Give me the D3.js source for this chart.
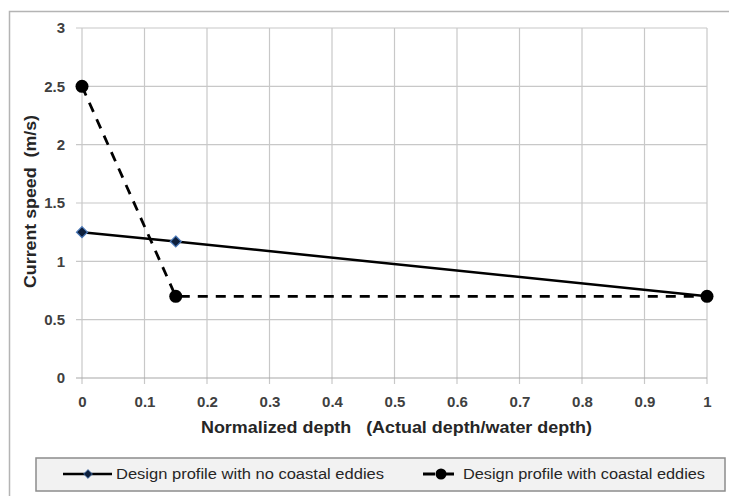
<!DOCTYPE html>
<html>
<head>
<meta charset="utf-8">
<script src="https://cdn.jsdelivr.net/npm/d3@7"></script>
<style>
  body { margin: 0; background: #fff; }
  text { font-family: "Liberation Sans", Arial, sans-serif; }
</style>
</head>
<body>
<svg id="chart" width="729" height="496"></svg>
<script>
// series data
var depth = [0, 0.15, 1];
var noEddies = [1.25, 1.17, 0.7];
var withEddies = [2.5, 0.7, 0.7];
var xTicks = [0, 0.1, 0.2, 0.3, 0.4, 0.5, 0.6, 0.7, 0.8, 0.9, 1];
var yTicks = [0, 0.5, 1, 1.5, 2, 2.5, 3];
var seriesNames = ["Design profile with no coastal eddies", "Design profile with coastal eddies"];

var margin = { top: 28, left: 82 },
    width = 625,
    height = 350;

var svg = d3.select("#chart");

// outer frame
svg.append("rect")
    .attr("x", 9.5).attr("y", 11.5)
    .attr("width", 740).attr("height", 500)
    .attr("fill", "none")
    .attr("stroke", "#b4b4b4")
    .attr("stroke-width", 1.5);

var x = d3.scaleLinear().domain([0, 1]).range([0, width]);
var y = d3.scaleLinear().domain([0, 3]).range([height, 0]);

var chart = svg.append("g")
    .attr("transform", "translate(" + margin.left + "," + margin.top + ")");

// grid
chart.selectAll(".vgrid")
    .data(xTicks)
    .enter().append("line")
    .attr("x1", function(d) { return x(d); })
    .attr("x2", function(d) { return x(d); })
    .attr("y1", 0).attr("y2", height + 6)
    .attr("stroke", "#c8c8c8")
    .attr("stroke-width", 1.2);

chart.selectAll(".hgrid")
    .data(yTicks)
    .enter().append("line")
    .attr("x1", -6).attr("x2", width)
    .attr("y1", function(d) { return y(d); })
    .attr("y2", function(d) { return y(d); })
    .attr("stroke", function(d) { return d === 0 ? "#a8a8a8" : "#c8c8c8"; })
    .attr("stroke-width", 1.2);

var xAxis = d3.axisBottom(x).tickValues(xTicks).tickSize(0).tickPadding(18)
    .tickFormat(d3.format("~g"));
var yAxis = d3.axisLeft(y).tickValues(yTicks).tickSize(0).tickPadding(17)
    .tickFormat(d3.format("~g"));

var gx = chart.append("g")
    .attr("transform", "translate(0," + height + ")")
    .call(xAxis);
var gy = chart.append("g").call(yAxis);

[gx, gy].forEach(function(g) {
    g.select(".domain").remove();
    g.selectAll("text")
        .attr("fill", "#404040")
        .style("font-size", "15px")
        .style("font-weight", "bold");
});

// lines
var line = d3.line()
    .x(function(d) { return x(d[0]); })
    .y(function(d) { return y(d[1]); });

var s1 = depth.map(function(d, i) { return [d, noEddies[i]]; });
var s2 = depth.map(function(d, i) { return [d, withEddies[i]]; });

chart.append("path")
    .datum(s2)
    .attr("d", line)
    .attr("fill", "none")
    .attr("stroke", "#000")
    .attr("stroke-width", 2.8)
    .attr("stroke-dasharray", "10,8");

chart.append("path")
    .datum(s1)
    .attr("d", line)
    .attr("fill", "none")
    .attr("stroke", "#000")
    .attr("stroke-width", 2.5);

var diamond = "M0,-5.5L5.5,0L0,5.5L-5.5,0Z";

chart.selectAll(".dmark")
    .data(s1.slice(0, 2))
    .enter().append("path")
    .attr("d", diamond)
    .attr("transform", function(d) { return "translate(" + x(d[0]) + "," + y(d[1]) + ")"; })
    .attr("fill", "#0d1f3c")
    .attr("stroke", "#4a78b8")
    .attr("stroke-width", 1.2);

chart.selectAll(".cmark")
    .data(s2)
    .enter().append("circle")
    .attr("cx", function(d) { return x(d[0]); })
    .attr("cy", function(d) { return y(d[1]); })
    .attr("r", 6.5)
    .attr("fill", "#000");

// axis titles
svg.append("text")
    .text("Normalized depth   (Actual depth/water depth)")
    .attr("x", 201).attr("y", 433)
    .attr("textLength", 391)
    .attr("lengthAdjust", "spacingAndGlyphs")
    .attr("fill", "#262626")
    .style("font-size", "16px")
    .style("font-weight", "bold")
    .attr("xml:space", "preserve");

svg.append("text")
    .text("Current speed  (m/s)")
    .attr("x", 0).attr("y", 0)
    .attr("textLength", 173)
    .attr("lengthAdjust", "spacingAndGlyphs")
    .attr("fill", "#262626")
    .style("font-size", "16px")
    .style("font-weight", "bold")
    .attr("xml:space", "preserve")
    .attr("transform", "translate(36,288) rotate(-90)");

// legend
var legend = svg.append("g");
legend.append("rect")
    .attr("x", 36).attr("y", 458)
    .attr("width", 689).attr("height", 33)
    .attr("fill", "#f2f2f2")
    .attr("stroke", "#8c8c8c")
    .attr("stroke-width", 1.5);

var ly = 474;
legend.append("line")
    .attr("x1", 63).attr("x2", 112).attr("y1", ly).attr("y2", ly)
    .attr("stroke", "#000").attr("stroke-width", 2.5);
legend.append("path")
    .attr("d", diamond)
    .attr("transform", "translate(88," + ly + ") scale(0.8)")
    .attr("fill", "#0d1f3c")
    .attr("stroke", "#4a78b8");
legend.append("text")
    .text(seriesNames[0])
    .attr("x", 116).attr("y", ly + 5)
    .attr("textLength", 268)
    .attr("lengthAdjust", "spacingAndGlyphs")
    .attr("fill", "#262626")
    .style("font-size", "14px");

legend.append("line")
    .attr("x1", 423).attr("x2", 457).attr("y1", ly).attr("y2", ly)
    .attr("stroke", "#000").attr("stroke-width", 2.8)
    .attr("stroke-dasharray", "12,7");
legend.append("circle")
    .attr("cx", 441).attr("cy", ly).attr("r", 5.5).attr("fill", "#000");
legend.append("text")
    .text(seriesNames[1])
    .attr("x", 463).attr("y", ly + 5)
    .attr("textLength", 242)
    .attr("lengthAdjust", "spacingAndGlyphs")
    .attr("fill", "#262626")
    .style("font-size", "14px");
</script>
</body>
</html>
